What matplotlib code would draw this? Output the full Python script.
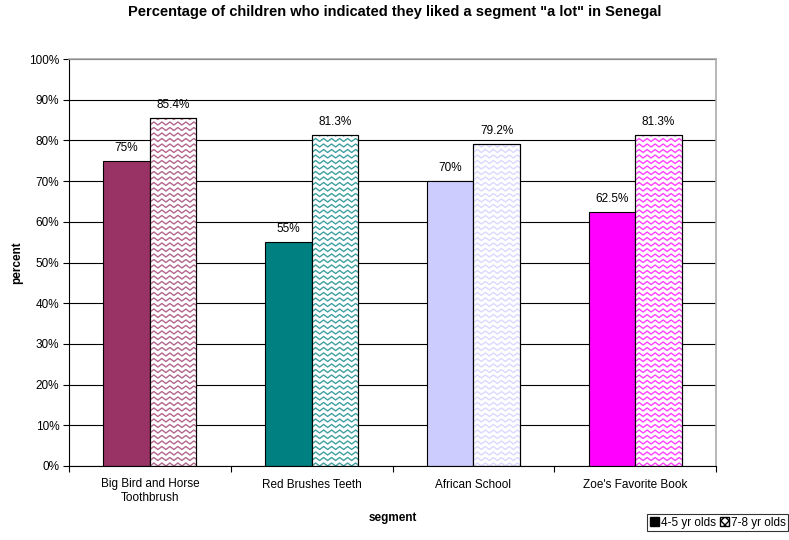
import numpy as np
import matplotlib
matplotlib.use("Agg")
import matplotlib.pyplot as plt
from matplotlib.patches import Patch

plt.rcParams["font.family"] = ["Liberation Sans", "DejaVu Sans"]

segments = ["Big Bird and Horse\nToothbrush", "Red Brushes Teeth", "African School", "Zoe's Favorite Book"]
young = [75, 55, 70, 62.5]
old = [85.4, 81.3, 79.2, 81.3]
young_labels = ["75%", "55%", "70%", "62.5%"]
old_labels = ["85.4%", "81.3%", "79.2%", "81.3%"]
colors = ["#993366", "#008080", "#CCCCFF", "#FF00FF"]
series_names = ["4-5 yr olds", "7-8 yr olds"]

fig = plt.figure(figsize=(7.89, 5.40), dpi=100)
ax = fig.add_axes([69 / 789, 74 / 540, 647 / 789, 407 / 540])

x = np.arange(len(segments))
w = 0.2875
ax.set_xlim(-0.5, len(segments) - 0.5)
ax.set_ylim(0, 100)

# gridlines under bars
ax.set_axisbelow(True)
ax.yaxis.grid(True, color="black", linewidth=0.8)

b1 = ax.bar(x - w / 2, young, w, color=colors, edgecolor="black", linewidth=0.8, zorder=2)
b2 = ax.bar(x + w / 2, old, w, color="white", edgecolor="black", linewidth=0.8, zorder=2)

# zigzag fill for the 7-8 bars, sizes in pixels
inv = ax.transData.inverted()
def px(dx, dy):
    p0 = inv.transform((0, 0)); p1 = inv.transform((dx, dy))
    return p1[0] - p0[0], p1[1] - p0[1]
per_x, row_y = px(8, 5.5)
amp_x, amp_y = px(4, 3)
for rect, c in zip(b2, colors):
    x0, x1 = rect.get_x(), rect.get_x() + rect.get_width()
    xs = np.arange(x0 - per_x, x1 + per_x, per_x / 2)
    for yb in np.arange(0, rect.get_height() + row_y, row_y):
        ys = yb + amp_y * (np.arange(len(xs)) % 2)
        ln, = ax.plot(xs, ys, color=c, linewidth=1.0, alpha=0.75, zorder=2.5)
        ln.set_clip_path(rect)
    ax.add_patch(plt.Rectangle((rect.get_x(), 0), rect.get_width(), rect.get_height(),
                               fill=False, edgecolor="black", linewidth=0.8, zorder=3))

for rect, lab in zip(b1, young_labels):
    ax.annotate(lab, (rect.get_x() + rect.get_width() / 2, rect.get_height()),
                xytext=(0, 5), textcoords="offset points", ha="center", va="bottom", fontsize=8.5)
for rect, lab in zip(b2, old_labels):
    ax.annotate(lab, (rect.get_x() + rect.get_width() / 2, rect.get_height()),
                xytext=(0, 5), textcoords="offset points", ha="center", va="bottom", fontsize=8.5)

ax.set_yticks(np.arange(0, 101, 10))
ax.set_yticklabels([f"{v}%" for v in range(0, 101, 10)], fontsize=8.5)
ax.set_xticks(x)
ax.set_xticklabels(segments, fontsize=8.5, linespacing=1.15)
ax.set_xticks(np.arange(-0.5, len(segments)), minor=True)
ax.tick_params(axis="x", which="major", length=0, pad=9)
ax.tick_params(axis="x", which="minor", length=4, width=0.8)
ax.tick_params(axis="y", length=4, width=0.8, pad=3)

ax.spines["top"].set_color("#AAAAAA")
ax.spines["right"].set_color("#AAAAAA")
ax.spines["top"].set_linewidth(1.2)
ax.spines["right"].set_linewidth(1.2)

ax.set_xlabel("segment", fontsize=8.5, fontweight="bold", labelpad=6)
ax.set_ylabel("percent", fontsize=8.5, fontweight="bold", labelpad=4)
fig.text(0.5, 1 - 12 / 540, 'Percentage of children who indicated they liked a segment "a lot" in Senegal',
         ha="center", va="center", fontsize=10.5, fontweight="bold")

handles = [Patch(facecolor="black", edgecolor="black"),
           Patch(facecolor="white", edgecolor="black", hatch="xxxx")]
leg = fig.legend(handles, series_names, loc="lower right", bbox_to_anchor=(788 / 789, 9 / 540),
                 ncol=2, fontsize=8.5, frameon=True, fancybox=False, handlelength=0.8,
                 handleheight=0.8, handletextpad=0.15, columnspacing=0.3, borderpad=0.2,
                 borderaxespad=0)
leg.get_frame().set_edgecolor("black")
leg.get_frame().set_linewidth(0.8)

fig.savefig("out.png", dpi=100, facecolor="white")
